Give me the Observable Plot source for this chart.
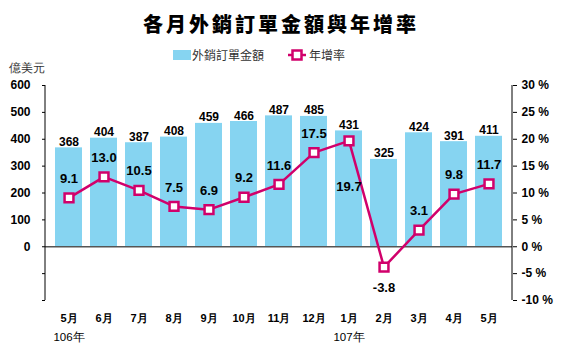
<!DOCTYPE html>
<html>
<head>
<meta charset="utf-8">
<script src="https://cdn.jsdelivr.net/npm/d3@7"></script>
<script src="https://cdn.jsdelivr.net/npm/@observablehq/plot@0.6"></script>
<style>
  body { margin: 0; background: #fff; }
  #wrap { position: relative; width: 562px; height: 346px; overflow: hidden; font-family: "Liberation Sans", "Noto Sans CJK TC", sans-serif; }
  #title { position: absolute; left: 0; top: 10px; width: 562px; text-align: center; font-family: "Noto Sans CJK TC", serif; font-weight: 900; font-size: 20px; letter-spacing: 3px; color: #000; line-height: 28px; }
  #legend { position: absolute; top: 46px; left: 0; width: 562px; height: 18px; font-size: 12px; color: #333; font-family: "Noto Sans CJK TC", sans-serif; }
  .lg { position: absolute; top: 0; line-height: 18px; }
  #chart { position: absolute; left: 0; top: 62px; }
</style>
</head>
<body>
<div id="wrap">
  <div id="title">各月外銷訂單金額與年增率</div>
  <div id="legend">
    <div class="lg" style="left:173px;top:4px;width:18px;height:10px;background:#86D4F1"></div>
    <div class="lg" style="left:192px">外銷訂單金額</div>
    <svg class="lg" style="left:287px;top:2px" width="20" height="14"><line x1="1" y1="7" x2="19" y2="7" stroke="#D1006B" stroke-width="2.5"/><rect x="5.5" y="2.5" width="9" height="9" fill="#fff" stroke="#D1006B" stroke-width="2.5"/></svg>
    <div class="lg" style="left:309px">年增率</div>
  </div>
  <div id="chart"></div>
</div>
<script>
const months = ["5月","6月","7月","8月","9月","10月","11月","12月","1月","2月","3月","4月","5月"];
const values = [368,404,387,408,459,466,487,485,431,325,424,391,411];
const growth = [9.1,13.0,10.5,7.5,6.9,9.2,11.6,17.5,19.7,-3.8,3.1,9.8,11.7];
const yearLabels = [{i:0, text:"106年"}, {i:8, text:"107年"}];
const leftTicks = [-200,-100,0,100,200,300,400,500,600];
const belowFar = [8];
const belowNear = [9];

const ratio = 20; // 30% ↔ 600
const data = months.map((m, i) => ({i, m, value: values[i], growth: growth[i], g: growth[i] * ratio}));

const numFont = "'Liberation Sans Narrow', 'Arial Narrow', 'Liberation Sans', sans-serif";
const magenta = "#D1006B";

const axisLines = (index, scales, values, dim) => {
  const g = d3.create("svg:g").attr("stroke", "#000").attr("stroke-width", 1);
  const top = dim.marginTop, bottom = dim.height - dim.marginBottom;
  const left = dim.marginLeft, right = dim.width - dim.marginRight;
  g.append("line").attr("x1", left).attr("x2", left).attr("y1", top).attr("y2", bottom);
  g.append("line").attr("x1", right).attr("x2", right).attr("y1", top).attr("y2", bottom);
  return g.node();
};

const chart = Plot.plot({
  width: 562,
  height: 284,
  marginTop: 23,
  marginBottom: 46,
  marginLeft: 45,
  marginRight: 50,
  style: {fontFamily: numFont, color: "#000", background: "transparent"},
  x: {type: "band", domain: d3.range(months.length), paddingInner: 0.22, paddingOuter: 0.11, axis: null},
  y: {domain: [-200, 600], axis: null},
  marks: [
    Plot.barY(data, {x: "i", y: "value", fill: "#86D4F1"}),
    Plot.ruleY([0], {stroke: "#555", strokeWidth: 1.5}),
    axisLines,
    Plot.axisY({anchor: "left", ticks: leftTicks, tickSize: 3, tickPadding: 12, tickFormat: d => d < 0 ? "" : d, fontWeight: "bold", fontSize: 12, label: null}),
    Plot.axisY({anchor: "right", ticks: leftTicks, tickSize: 4, tickPadding: 5, tickFormat: d => (d / ratio) + " %", fontWeight: "bold", fontSize: 12, label: null}),
    Plot.axisX({anchor: "bottom", tickSize: 0, tickPadding: 14, tickFormat: i => months[i], fontWeight: "bold", fontSize: 11, label: null}),
    Plot.text(yearLabels, {x: "i", text: "text", frameAnchor: "bottom", dy: 40, fontSize: 11.5, fill: "#000"}),
    Plot.text(["億美元"], {frameAnchor: "top-left", dx: -37, dy: -22, textAnchor: "start", fontSize: 12, fill: "#333"}),
    Plot.line(data, {x: "i", y: "g", stroke: magenta, strokeWidth: 2.5}),
    Plot.dot(data, {x: "i", y: "g", symbol: "square", r: 5, fill: "white", stroke: magenta, strokeWidth: 2.5}),
    Plot.text(data, {x: "i", y: "value", text: d => d.value, lineAnchor: "bottom", dy: -2, fontWeight: "bold", fontSize: 12}),
    Plot.text(data.filter(d => !belowFar.includes(d.i) && !belowNear.includes(d.i)), {x: "i", y: "g", text: d => d.growth.toFixed(1), dy: -19, fontWeight: "bold", fontSize: 13}),
    Plot.text(data.filter(d => belowFar.includes(d.i)), {x: "i", y: "g", text: d => d.growth.toFixed(1), dy: 46, fontWeight: "bold", fontSize: 13}),
    Plot.text(data.filter(d => belowNear.includes(d.i)), {x: "i", y: "g", text: d => d.growth.toFixed(1), dy: 21, fontWeight: "bold", fontSize: 13})
  ]
});
document.getElementById("chart").appendChild(chart);
</script>
</body>
</html>
